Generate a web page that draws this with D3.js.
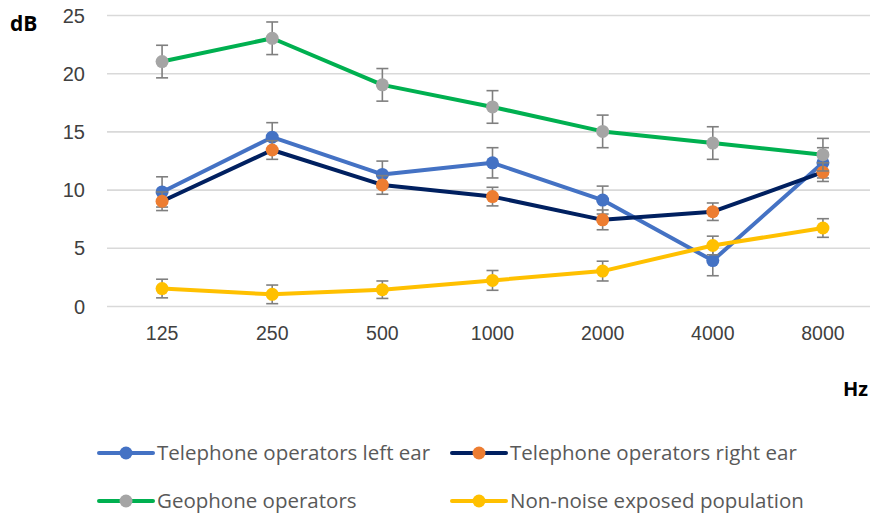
<!DOCTYPE html>
<html>
<head>
<meta charset="utf-8">
<script src="https://cdn.jsdelivr.net/npm/d3@7"></script>
<style>
  body { margin: 0; background: #fff; }
  svg { font-family: "Open Sans", "Noto Sans", sans-serif; }
</style>
</head>
<body>
<svg id="chart"></svg>
<script>
const frequencies = ["125", "250", "500", "1000", "2000", "4000", "8000"];

const leftEar = [9.8, 14.5, 11.3, 12.3, 9.1, 3.9, 12.3];
const rightEar = [9.0, 13.4, 10.4, 9.4, 7.4, 8.1, 11.5];
const geophone = [21.0, 23.0, 19.0, 17.1, 15.0, 14.0, 13.0];
const nonNoise = [1.5, 1.0, 1.4, 2.2, 3.0, 5.2, 6.7];

const leftEarErr = [1.3, 1.25, 1.15, 1.3, 1.2, 1.3, 1.3];
const rightEarErr = [0.8, 0.8, 0.8, 0.8, 0.85, 0.75, 0.8];
const geophoneErr = [1.4, 1.4, 1.4, 1.4, 1.4, 1.4, 1.4];
const nonNoiseErr = [0.8, 0.8, 0.75, 0.85, 0.85, 0.8, 0.8];

const yTicks = [0, 5, 10, 15, 20, 25];

const series = [
  {name: "Telephone operators left ear", values: leftEar, err: leftEarErr, line: "#4472c4", marker: "#4472c4"},
  {name: "Telephone operators right ear", values: rightEar, err: rightEarErr, line: "#002060", marker: "#ed7d31"},
  {name: "Geophone operators", values: geophone, err: geophoneErr, line: "#00b050", marker: "#a5a5a5"},
  {name: "Non-noise exposed population", values: nonNoise, err: nonNoiseErr, line: "#ffc000", marker: "#ffc000"}
];

const W = 873, H = 518;
const svg = d3.select("#chart").attr("width", W).attr("height", H);

const x = d3.scaleBand().domain(frequencies).range([107, 878]).padding(0);
const y = d3.scaleLinear().domain([0, 25]).range([306, 15]);
const cx = d => x(d) + x.bandwidth() / 2;

// gridlines + y labels
const yAxis = svg.append("g")
  .attr("transform", "translate(107,0)")
  .call(d3.axisLeft(y).tickValues(yTicks).tickSize(-(870 - 107)).tickPadding(22));
yAxis.select(".domain").remove();
yAxis.selectAll(".tick line").attr("stroke", "#d9d9d9").attr("stroke-width", 1.6);
yAxis.selectAll(".tick text")
  .attr("fill", "#404040").style("font-size", "20px").attr("dy", "0.35em");

// x labels
const xAxis = svg.append("g")
  .attr("transform", "translate(0,306)")
  .call(d3.axisBottom(x).tickSize(0).tickPadding(20));
xAxis.select(".domain").remove();
xAxis.selectAll(".tick text")
  .attr("fill", "#404040").style("font-size", "19.5px");

// axis titles
svg.append("text").attr("x", 10).attr("y", 31)
  .style("font-size", "21px").style("font-weight", "bold").attr("fill", "#000").text("dB");
svg.append("text").attr("x", 843).attr("y", 396)
  .style("font-size", "20px").style("font-weight", "bold").attr("fill", "#000").text("Hz");

const line = d3.line()
  .x((d, i) => cx(frequencies[i]))
  .y(d => y(d));

series.forEach(s => {
  const g = svg.append("g");
  g.append("path")
    .datum(s.values)
    .attr("fill", "none")
    .attr("stroke", s.line)
    .attr("stroke-width", 4)
    .attr("stroke-linejoin", "round")
    .attr("d", line);

  const eb = g.selectAll(".eb").data(s.values).join("g").attr("class", "eb")
    .attr("stroke", "#7f7f7f").attr("stroke-width", 1.6);
  eb.append("line")
    .attr("x1", (d, i) => cx(frequencies[i])).attr("x2", (d, i) => cx(frequencies[i]))
    .attr("y1", (d, i) => y(d + s.err[i])).attr("y2", (d, i) => y(d - s.err[i]));
  eb.append("line")
    .attr("x1", (d, i) => cx(frequencies[i]) - 6).attr("x2", (d, i) => cx(frequencies[i]) + 6)
    .attr("y1", (d, i) => y(d + s.err[i])).attr("y2", (d, i) => y(d + s.err[i]));
  eb.append("line")
    .attr("x1", (d, i) => cx(frequencies[i]) - 6).attr("x2", (d, i) => cx(frequencies[i]) + 6)
    .attr("y1", (d, i) => y(d - s.err[i])).attr("y2", (d, i) => y(d - s.err[i]));

  g.selectAll("circle").data(s.values).join("circle")
    .attr("cx", (d, i) => cx(frequencies[i]))
    .attr("cy", d => y(d))
    .attr("r", 6.5)
    .attr("fill", s.marker);
});

// legend
const legendPos = [[99, 453], [452, 453], [99, 501], [452, 501]];
series.forEach((s, i) => {
  const [lx, ly] = legendPos[i];
  const g = svg.append("g").attr("transform", `translate(${lx},${ly})`);
  g.append("line").attr("x1", 0).attr("x2", 54).attr("y1", 0).attr("y2", 0)
    .attr("stroke", s.line).attr("stroke-width", 4).attr("stroke-linecap", "round");
  g.append("circle").attr("cx", 27).attr("cy", 0).attr("r", 6.5).attr("fill", s.marker);
  g.append("text").attr("x", 58).attr("y", 0).attr("dy", "0.35em")
    .attr("fill", "#595959").style("font-size", "20.5px").text(s.name);
});
</script>
</body>
</html>
